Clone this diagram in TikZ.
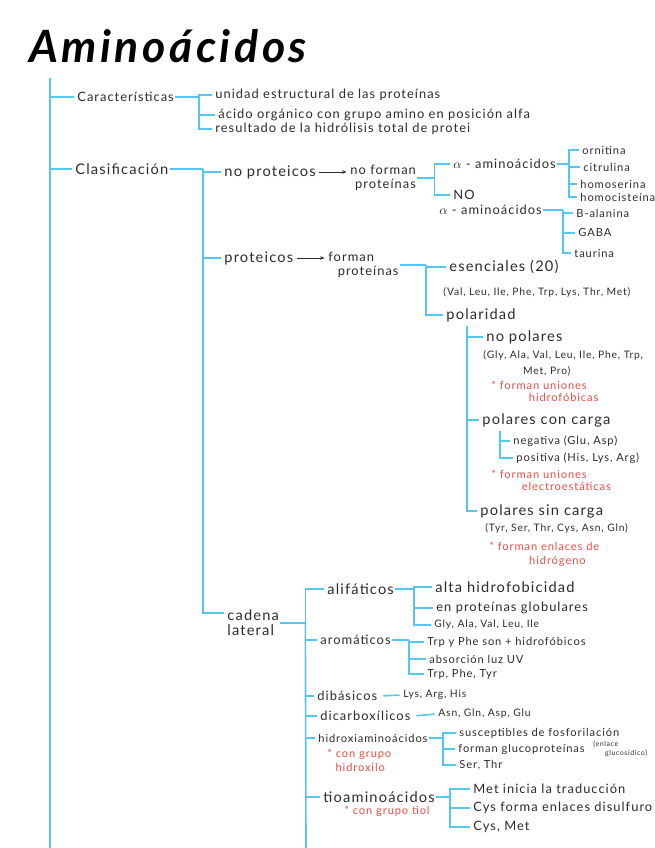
\documentclass[tikz,border=0pt]{standalone}
\usepackage{fontspec}
\setmainfont{Lato}[LetterSpace=8]
\usetikzlibrary{arrows.meta}
\definecolor{mapblue}{HTML}{55C6F2}
\definecolor{notered}{HTML}{EC4B43}
\definecolor{ink}{HTML}{2B2B2B}
\tikzset{
  br/.style={mapblue,line width=1.4pt},
  tick/.style={br,shorten >=2pt},
  arr/.style={ink,line width=0.6pt,-{Stealth[length=4pt]},shorten <=2pt,shorten >=2pt},
  txtA/.style={anchor=west,inner sep=1pt,text=ink,font=\fontsize{12.5}{13}\selectfont},
  txtB/.style={anchor=west,inner sep=1pt,text=ink,font=\fontsize{11}{12}\selectfont},
  txtC/.style={anchor=west,inner sep=1pt,text=ink,font=\fontsize{9.5}{11}\selectfont},
  txtD/.style={anchor=west,inner sep=1pt,text=ink,font=\fontsize{8.8}{11}\selectfont},
  redtxt/.style={anchor=west,inner sep=1pt,text=notered,align=left,font=\fontsize{9.5}{10}\selectfont},
}
\begin{document}
\begin{tikzpicture}[x=0.03cm,y=-0.03cm]
  \useasboundingbox (0,0) rectangle (655,848);
  \node[text=black,font=\fontsize{38}{42}\selectfont\bfseries\itshape] (title) at (168,46) {Aminoácidos};

  % main spine
  \coordinate (top) at (50,78);
  \coordinate (bot) at (50,848);
  \draw[br] (top) -- (bot);

  % caracteristicas
  \node[txtB] (car) at (76,97) {Características};
  \node[txtB] (u1) at (214,95) {unidad estructural de las proteínas};
  \node[txtB] (u2) at (217,115) {ácido orgánico con grupo amino en posición alfa};
  \node[txtB] (u3) at (214,129) {resultado de la hidrólisis total de protei};
  \draw[tick] (top) |- (car.west);
  \draw[br] (car.east) -- ++(24,0) coordinate (cs);
  \foreach \n in {u1,u2,u3} \draw[tick] (cs) |- (\n.west);

  % clasificacion
  \node[txtA] (clas) at (74,169) {Clasificación};
  \node[txtA] (np) at (223,172) {no proteicos};
  \node[txtA] (pr) at (223,258) {proteicos};
  \node[txtA,align=left] (cad) at (226,623) {cadena\\lateral};
  \draw[tick] (top) |- (clas.west);
  \draw[br] (clas.east) -- ++(33,0) coordinate (cls);
  \foreach \n in {np,pr} \draw[tick] (cls) |- (\n.west);
  \draw[tick] (cls) |- ([yshift=-4pt]cad.north west);

  % no proteicos
  \node[txtB,align=right] (nf) at (349,178) {no forman\\proteínas};
  \draw[arr] (np.east) -- (np.east -| nf.west);
  \node[txtB] (aa1) at (452,164) {$\alpha$ - aminoácidos};
  \node[txtB] (noaa) at (452,195) {NO};
  \node[txtB] (aa2) at (438,210) {$\alpha$ - aminoácidos};
  \draw[br] (nf.east) -- ++(17,0) coordinate (nfs);
  \foreach \n in {aa1,noaa} \draw[tick] (nfs) |- (\n.west);

  \node[txtC] (orn) at (581,150) {ornitina};
  \node[txtC] (cit) at (582,167) {citrulina};
  \node[txtC] (hser) at (579,184) {homoserina};
  \node[txtC] (hcis) at (579,197) {homocisteína};
  \draw[br] (aa1.east) -- ++(12,0) coordinate (aa1s);
  \foreach \n in {orn,cit,hser,hcis} \draw[tick] (aa1s) |- (\n.west);

  \node[txtC] (bala) at (575,213) {B-alanina};
  \node[txtC] (gaba) at (577,233) {GABA};
  \node[txtC] (tau) at (573,253) {taurina};
  \draw[br] (aa2.east) -- ++(20,0) coordinate (aa2s);
  \foreach \n in {bala,gaba,tau} \draw[tick] (aa2s) |- (\n.west);

  % proteicos
  \node[txtB,align=left] (fp) at (327,265) {forman\\\hspace*{8pt}proteínas};
  \draw[arr] (pr.east) -- (pr.east -| fp.west);
  \node[txtA] (es) at (448,267) {esenciales (20)};
  \node[txtD] (esl) at (442,292) {(Val, Leu, Ile, Phe, Trp, Lys, Thr, Met)};
  \node[txtA] (pol) at (445,315) {polaridad};
  \draw[br] (fp.east) -- ++(26,0) coordinate (fps);
  \foreach \n in {es,pol} \draw[tick] (fps) |- (\n.west);

  % polaridad
  \coordinate (pols) at (467,326);
  \node[txtA] (npol) at (485,337) {no polares};
  \node[txtD,align=left] (glyl) at (482,363) {(Gly, Ala, Val, Leu, Ile, Phe, Trp,\\[3pt]\hspace*{34pt}Met, Pro)};
  \node[redtxt] (r1) at (490,391) {* forman uniones\\\hspace*{32pt}hidrofóbicas};
  \node[txtA] (pcc) at (481,420) {polares con carga};
  \node[txtC] (neg) at (512,441) {negativa (Glu, Asp)};
  \node[txtC] (pos) at (515,458) {positiva (His, Lys, Arg)};
  \coordinate (pccs) at (500,431);
  \foreach \n in {neg,pos} \draw[tick] (pccs) |- (\n.west);
  \node[redtxt] (r2) at (490,480) {* forman uniones\\\hspace*{26pt}electroestáticas};
  \node[txtA] (psc) at (479,511) {polares sin carga};
  \node[txtD] (tyrl) at (484,528) {(Tyr, Ser, Thr, Cys, Asn, Gln)};
  \node[redtxt] (r3) at (488,554) {* forman enlaces de\\[2pt]\hspace*{34pt}hidrógeno};
  \foreach \n in {npol,pcc,psc} \draw[tick] (pols) |- (\n.west);

  % cadena lateral
  \coordinate (cadbot) at (306,848);
  \draw[br] (cad.east) -- ++(25,0) coordinate (cads);
  \draw[br] (cads) -- (cadbot);
  \node[txtA] (ali) at (326,589) {alifáticos};
  \node[txtB] (aro) at (319,640) {aromáticos};
  \node[txtB] (dib) at (316,696) {dibásicos};
  \node[txtB] (dic) at (319,716) {dicarboxílicos};
  \node[txtC] (hid) at (317,738) {hidroxiaminoácidos};
  \node[txtA] (tio) at (322,797) {tioaminoácidos};
  \foreach \n in {ali,aro,dib,dic,hid,tio} \draw[tick] (cads) |- (\n.west);

  \node[txtA] (alta) at (434,587) {alta hidrofobicidad};
  \node[txtB] (glob) at (435,608) {en proteínas globulares};
  \node[txtD] (glyc) at (433,625) {Gly, Ala, Val, Leu, Ile};
  \draw[br] (ali.east) -- ++(19,0) coordinate (alis);
  \foreach \n in {alta,glob,glyc} \draw[tick] (alis) |- (\n.west);

  \node[txtC] (trp1) at (426,642) {Trp y Phe son + hidrofóbicos};
  \node[txtC] (abs) at (428,659) {absorción luz UV};
  \node[txtC] (trp2) at (426,674) {Trp, Phe, Tyr};
  \draw[br] (aro.east) -- ++(17,0) coordinate (aros);
  \foreach \n in {trp1,abs,trp2} \draw[tick] (aros) |- (\n.west);

  \node[txtD] (lys) at (402,695) {Lys, Arg, His};
  \draw[tick,shorten <=4pt] (dib.east) -- (lys.west);
  \node[txtD] (asn) at (437,714) {Asn, Gln, Asp, Glu};
  \draw[tick,shorten <=4pt] (dic.east) -- (asn.west);

  \node[txtC] (sus) at (458,733) {susceptibles de fosforilación};
  \node[txtC] (gluc) at (457,749) {forman glucoproteínas};
  \node[anchor=west,inner sep=1pt,text=ink,align=left,font=\fontsize{6}{7.5}\selectfont] (enl) at (592,749) {(enlace\\\hspace*{10pt}glucosídico)};
  \node[txtC] (ser) at (458,765) {Ser, Thr};
  \draw[br] (hid.east) -- ++(14,0) coordinate (hids);
  \foreach \n in {sus,gluc,ser} \draw[tick] (hids) |- (\n.west);
  \node[redtxt] (r4) at (326,760) {* con grupo\\[2pt]\hspace*{7pt}hidroxilo};

  \node[txtB] (met) at (472,789) {Met inicia la traducción};
  \node[txtB] (cys) at (472,808) {Cys forma enlaces disulfuro};
  \node[txtB] (cysm) at (472,827) {Cys, Met};
  \draw[br] (tio.east) -- ++(14,0) coordinate (tios);
  \foreach \n in {met,cys,cysm} \draw[tick] (tios) |- (\n.west);
  \node[redtxt] (r5) at (343,811) {* con grupo tiol};
\end{tikzpicture}
\end{document}
